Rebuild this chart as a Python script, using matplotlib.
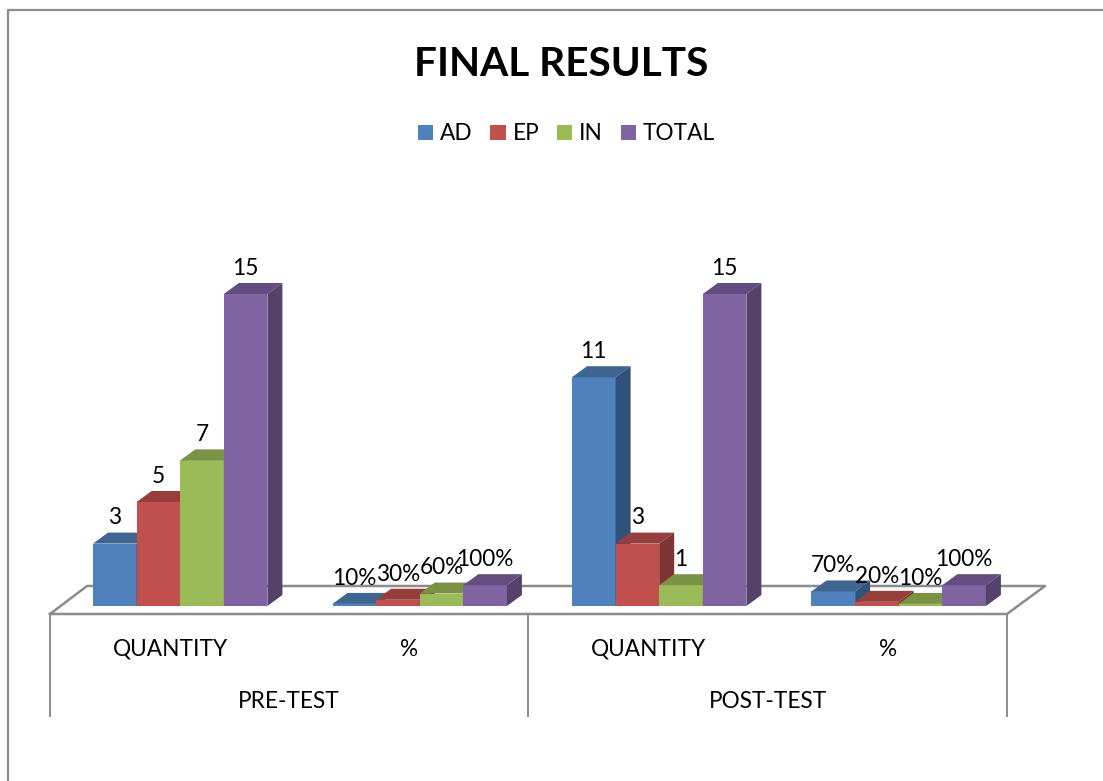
import matplotlib
matplotlib.use("Agg")
import matplotlib.pyplot as plt
from matplotlib.patches import Polygon

plt.rcParams['font.family'] = ['Lato', 'DejaVu Sans']

# data
series_names = ['AD', 'EP', 'IN', 'TOTAL']
ad_values = [3, 0.1, 11, 0.7]
ep_values = [5, 0.3, 3, 0.2]
in_values = [7, 0.6, 1, 0.1]
total_values = [15, 1, 15, 1]
bar_labels = [['3', '10%', '11', '70%'],
              ['5', '30%', '3', '20%'],
              ['7', '60%', '1', '10%'],
              ['15', '100%', '15', '100%']]
quarter_labels = ['QUANTITY', '%', 'QUANTITY', '%']
test_labels = ['PRE-TEST', 'POST-TEST']

front_colors = ['#4F81BD', '#C0504D', '#9BBB59', '#8064A2']
top_colors = ['#3E6691', '#963E3C', '#799246', '#644E7F']
side_colors = ['#30527A', '#7E3432', '#657A3A', '#54426B']
line_color = '#8C8C8C'
WIDTH, HEIGHT = 1103, 781

fig = plt.figure(figsize=(WIDTH / 100, HEIGHT / 100), dpi=100)

# pixel axes for the frame, floor and labels
bg = fig.add_axes([0, 0, 1, 1])
bg.set_xlim(0, WIDTH)
bg.set_ylim(HEIGHT, 0)
bg.axis('off')

bg.plot([8, 8, WIDTH], [HEIGHT, 10, 10], color=line_color, lw=1.6)
bg.plot([50, 1007, 1045, 87, 50], [614, 614, 586, 586, 614], color=line_color, lw=1.8)
for x in [50, 528, 1007]:
    bg.plot([x, x], [614, 716], color=line_color, lw=1.4)

bg.text(561, 64, 'FINAL RESULTS', fontsize=29.2, fontweight='bold', ha='center', va='center', color='black')
for x, t in zip([170, 409, 648, 888], quarter_labels):
    bg.text(x, 649, t, fontsize=16.3, ha='center', va='center', color='black')
for x, t in zip([289, 768], test_labels):
    bg.text(x, 701, t, fontsize=16.3, ha='center', va='center', color='black')

# bar axes: x is one unit per group, y is the value
px_x = 239.5
px_y = 20.8
ax = fig.add_axes([0, 0, 1, 1], facecolor='none')
ax.set_xlim(-93 / px_x, (WIDTH - 93) / px_x)
ax.set_ylim(-(HEIGHT - 606) / px_y, 606 / px_y)
ax.axis('off')

bar_w = 43.6 / px_x
depth_x = 15 / px_x
depth_y = 11 / px_y
groups = range(len(quarter_labels))

handles = []
all_values = [ad_values, ep_values, in_values, total_values]
for i, values in enumerate(all_values):
    z = 2 + i
    xs = [g + i * bar_w for g in groups]
    bars = ax.bar(xs, values, width=bar_w, align='edge', color=front_colors[i], zorder=z, label=series_names[i])
    handles.append(bars)
    for x, v, lab in zip(xs, values, bar_labels[i]):
        top = [(x, v), (x + bar_w, v), (x + bar_w + depth_x, v + depth_y), (x + depth_x, v + depth_y)]
        side = [(x + bar_w, 0), (x + bar_w + depth_x, depth_y), (x + bar_w + depth_x, v + depth_y), (x + bar_w, v)]
        ax.add_patch(Polygon(top, closed=True, facecolor=top_colors[i], edgecolor='none', zorder=z))
        ax.add_patch(Polygon(side, closed=True, facecolor=side_colors[i], edgecolor='none', zorder=z))
        ax.annotate(lab, (x + bar_w / 2, v), xytext=(0, 18.5), textcoords='offset points',
                    fontsize=16.3, ha='center', va='center', color='black', zorder=10)

leg = ax.legend(handles=handles, loc='center', bbox_to_anchor=(566.5 / WIDTH, 1 - 134 / HEIGHT),
                bbox_transform=fig.transFigure, ncol=4, frameon=False, fontsize=16.3,
                handlelength=0.68, handleheight=0.68, handletextpad=0.3, columnspacing=0.78)

fig.savefig('out.png', dpi=100)
